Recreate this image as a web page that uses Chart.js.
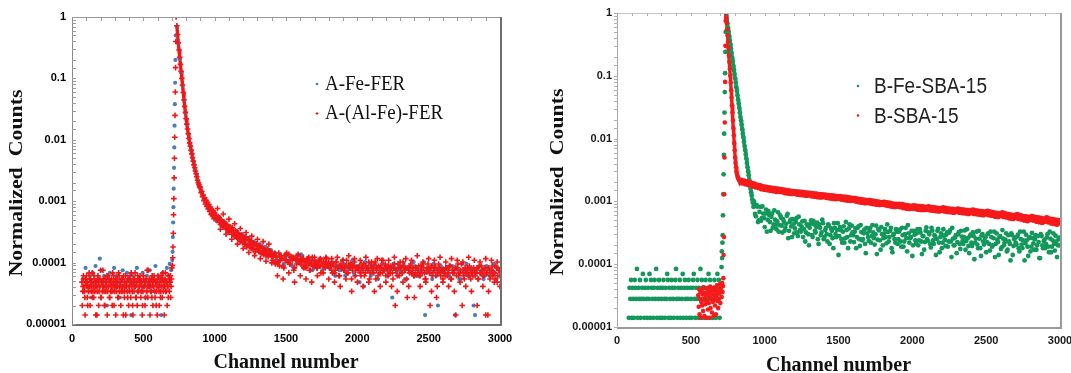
<!DOCTYPE html>
<html>
<head>
<meta charset="utf-8">
<script src="https://cdn.jsdelivr.net/npm/chart.js@4.4.1/dist/chart.umd.min.js"></script>
<style>
  html, body { margin: 0; padding: 0; background: #fff; }
  #wrap { position: relative; width: 1071px; height: 373px; overflow: hidden; }
  #leftBox { position: absolute; left: 0; top: 0; width: 530px; height: 373px; }
  #rightBox { position: absolute; left: 530px; top: 0; width: 541px; height: 373px; }
</style>
</head>
<body>
<div id="wrap">
  <div id="leftBox"><canvas id="left" width="530" height="373"></canvas></div>
  <div id="rightBox"><canvas id="right" width="541" height="373"></canvas></div>
</div>
<script>
// axis tick labels
var xTickLabels = ['0', '500', '1000', '1500', '2000', '2500', '3000'];
var yTickLabels = ['0.00001', '0.0001', '0.001', '0.01', '0.1', '1'];

// ---------- panel A ----------
// A-Fe-FER (blue)
// baseline, channels 75..695 every 10
var feFerBase = [5.4e-5,3.4e-5,8.2e-5,4.8e-5,4.1e-5,6.1e-5,2.7e-5,6.8e-5,4.8e-5,8.8e-5,4.1e-5,5.4e-5,1.16e-4,7.5e-5,4.8e-5,6.1e-5,4.1e-5,2e-5,5.4e-5,6.8e-5,
  4.8e-5,3.4e-5,8.2e-5,4.1e-5,6.1e-5,4.8e-5,2.7e-5,5.4e-5,7.5e-5,4.1e-5,4.8e-5,6.8e-5,3.4e-5,5.4e-5,1.4e-5,6.1e-5,4.8e-5,4.1e-5,8.2e-5,3.4e-5,
  5.4e-5,4.8e-5,6.8e-5,4.1e-5,2.7e-5,6.1e-5,4.8e-5,7.5e-5,4.1e-5,5.4e-5,3.4e-5,8.8e-5,4.8e-5,6.1e-5,4.1e-5,1.4e-5,6.8e-5,5.4e-5,4.8e-5,8.2e-5,
  6.1e-5,9.5e-5,7.5e-5];
// rising edge, channels 703..727 every 2
var feFerRise = [1.1e-4,1.5e-4,2.6e-4,4.5e-4,8e-4,1.6e-3,3.5e-3,7.5e-3,1.7e-2,3.8e-2,8.5e-2,0.2,0.5];
// decay, channels 735..995 every 10
var feFerDecay = [0.7,0.37,0.21,0.125,0.075,0.044,0.027,0.018,0.0125,0.0088,0.0067,0.0052,0.004,0.0031,0.0026,0.0021,0.00172,0.0015,0.00128,0.00108,
  0.00104,0.00088,0.00086,0.00073,0.00074,0.00062,0.00063];
// tail, channels 1005..2985 every 20
var feFerTail = [5.4e-4,5.1e-4,4.3e-4,4.6e-4,3.6e-4,3.9e-4,3.1e-4,2.6e-4,3.0e-4,2.3e-4,2.7e-4,2.0e-4,2.4e-4,1.75e-4,2.1e-4,1.6e-4,1.9e-4,1.45e-4,1.7e-4,1.35e-4,
  1.22e-4,1.43e-4,1.02e-4,1.16e-4,9.5e-5,1.29e-4,1.09e-4,8.8e-5,1.16e-4,1.02e-4,1.36e-4,8.2e-5,1.09e-4,9.5e-5,7.5e-5,1.02e-4,8.8e-5,1.16e-4,8.2e-5,9.5e-5,
  8.2e-5,1.02e-4,6.1e-5,8.8e-5,7.5e-5,9.5e-5,6.8e-5,8.2e-5,1.09e-4,6.1e-5,8.8e-5,7.5e-5,4.1e-5,8.2e-5,9.5e-5,6.8e-5,8.8e-5,5.4e-5,8.2e-5,7.5e-5,
  8.8e-5,6.8e-5,2.7e-5,8.2e-5,6.1e-5,7.5e-5,9.5e-5,5.4e-5,8.2e-5,6.8e-5,8.8e-5,6.1e-5,7.5e-5,1.02e-4,6.8e-5,8.2e-5,5.4e-5,7.5e-5,2e-5,8.8e-5,
  6.8e-5,8.2e-5,6.1e-5,8.8e-5,1.4e-5,7.5e-5,5.4e-5,6.8e-5,9.5e-5,6.1e-5,7.5e-5,1.4e-5,8.2e-5,6.8e-5,5.4e-5,8.8e-5,6.1e-5,7.5e-5,6.8e-5,8.2e-5];
// tail, channels 1015..2995 every 20
var feFerTail2 = [4.7e-4,5.5e-4,3.9e-4,4.3e-4,3.3e-4,3.7e-4,2.8e-4,3.3e-4,2.4e-4,2.9e-4,2.1e-4,2.5e-4,1.85e-4,2.2e-4,1.65e-4,2.0e-4,1.5e-4,1.8e-4,1.4e-4,1.6e-4,
  1.36e-4,1.09e-4,1.29e-4,8.8e-5,1.16e-4,1.02e-4,1.22e-4,8.2e-5,1.09e-4,9.5e-5,1.29e-4,8.8e-5,1.02e-4,1.16e-4,8.2e-5,9.5e-5,1.09e-4,7.5e-5,1.02e-4,8.8e-5,
  9.5e-5,6.8e-5,8.8e-5,7.5e-5,1.09e-4,6.1e-5,8.2e-5,9.5e-5,6.8e-5,8.8e-5,4.8e-5,8.2e-5,1.02e-4,7.5e-5,6.1e-5,8.8e-5,8.2e-5,6.8e-5,9.5e-5,7.5e-5,
  6.1e-5,8.2e-5,9.5e-5,6.8e-5,7.5e-5,8.8e-5,5.4e-5,8.2e-5,6.8e-5,1.02e-4,6.1e-5,7.5e-5,8.8e-5,1.4e-5,8.2e-5,6.8e-5,9.5e-5,6.1e-5,7.5e-5,8.2e-5,
  7.5e-5,6.1e-5,8.8e-5,6.8e-5,8.2e-5,5.4e-5,9.5e-5,7.5e-5,6.1e-5,8.2e-5,2e-5,6.8e-5,8.8e-5,7.5e-5,6.1e-5,8.2e-5,6.8e-5,9.5e-5,5.4e-5,7.5e-5];

// A-(Al-Fe)-FER (red)
// baseline, channels 70..700 every 5
var alFeBase = [4.8e-5,3.4e-5,6.1e-5,4.1e-5,2.7e-5,5.4e-5,4.1e-5,4.8e-5,2e-5,3.4e-5,6.8e-5,4.1e-5,5.4e-5,3.4e-5,4.8e-5,2.7e-5,4.1e-5,6.1e-5,3.4e-5,4.8e-5,
  4.1e-5,1.4e-5,5.4e-5,4.8e-5,3.4e-5,4.1e-5,7.5e-5,2.7e-5,4.8e-5,4.1e-5,5.4e-5,3.4e-5,2e-5,4.8e-5,4.1e-5,6.1e-5,3.4e-5,4.1e-5,5.4e-5,2.7e-5,
  4.8e-5,4.1e-5,3.4e-5,6.8e-5,4.8e-5,2e-5,4.1e-5,5.4e-5,3.4e-5,4.8e-5,4.1e-5,2.7e-5,6.1e-5,4.1e-5,4.8e-5,3.4e-5,5.4e-5,4.1e-5,1.4e-5,4.8e-5,
  3.4e-5,6.1e-5,4.1e-5,4.8e-5,2.7e-5,5.4e-5,4.1e-5,3.4e-5,4.8e-5,6.8e-5,4.1e-5,2e-5,4.8e-5,3.4e-5,5.4e-5,4.1e-5,2.7e-5,4.8e-5,6.1e-5,3.4e-5,
  4.1e-5,5.4e-5,4.8e-5,3.4e-5,4.1e-5,2e-5,6.1e-5,4.1e-5,4.8e-5,2.7e-5,5.4e-5,3.4e-5,4.1e-5,7.5e-5,4.8e-5,4.1e-5,3.4e-5,5.4e-5,2.7e-5,4.8e-5,
  4.1e-5,6.1e-5,3.4e-5,4.8e-5,2e-5,4.1e-5,5.4e-5,4.1e-5,3.4e-5,4.8e-5,2.7e-5,6.1e-5,4.1e-5,5.4e-5,3.4e-5,4.8e-5,4.1e-5,6.8e-5,3.4e-5,4.8e-5,
  4.1e-5,2.7e-5,5.4e-5,4.8e-5,6.1e-5,4.1e-5,8.2e-5];
// baseline, channels 72..697 every 5
var alFeBase2 = [2e-5,4.1e-5,5.4e-5,3.4e-5,1.4e-5,4.8e-5,6.1e-5,2.7e-5,4.1e-5,3.4e-5,5.4e-5,2e-5,4.8e-5,4.1e-5,6.8e-5,3.4e-5,2.7e-5,5.4e-5,4.1e-5,1.4e-5,
  4.8e-5,3.4e-5,6.1e-5,2e-5,4.1e-5,5.4e-5,2.7e-5,4.8e-5,3.4e-5,7.5e-5,4.1e-5,2e-5,5.4e-5,3.4e-5,4.8e-5,1.4e-5,6.1e-5,4.1e-5,2.7e-5,4.8e-5,
  3.4e-5,5.4e-5,2e-5,4.1e-5,6.1e-5,3.4e-5,4.8e-5,1.4e-5,4.1e-5,5.4e-5,2.7e-5,6.8e-5,3.4e-5,4.8e-5,2e-5,4.1e-5,5.4e-5,3.4e-5,6.1e-5,2.7e-5,
  4.1e-5,1.4e-5,4.8e-5,3.4e-5,5.4e-5,2e-5,4.1e-5,6.1e-5,2.7e-5,4.8e-5,3.4e-5,1.4e-5,5.4e-5,4.1e-5,6.8e-5,2.7e-5,4.8e-5,2e-5,3.4e-5,5.4e-5,
  4.1e-5,6.1e-5,2.7e-5,4.8e-5,1.4e-5,3.4e-5,5.4e-5,4.1e-5,2e-5,4.8e-5,3.4e-5,7.5e-5,2.7e-5,4.1e-5,5.4e-5,1.4e-5,4.8e-5,3.4e-5,6.1e-5,2e-5,
  4.1e-5,5.4e-5,2.7e-5,4.8e-5,3.4e-5,1.4e-5,6.1e-5,4.1e-5,2e-5,5.4e-5,3.4e-5,4.8e-5,2.7e-5,6.8e-5,4.1e-5,1.4e-5,5.4e-5,3.4e-5,4.8e-5,2e-5,
  4.1e-5,6.1e-5,3.4e-5,4.8e-5,2.7e-5,5.4e-5];
// rising edge, channels 704..730 every 2
var alFeRise = [9e-5,1.2e-4,1.8e-4,3e-4,6e-4,1.1e-3,2.4e-3,5e-3,1.1e-2,2.5e-2,6e-2,0.15,0.4,1];
// decay, channels 735..895 every 5
var alFeDecay = [0.72,0.52,0.38,0.29,0.22,0.17,0.13,0.1,0.078,0.059,0.045,0.035,0.028,0.022,0.018,0.015,0.0126,0.0105,0.0089,0.0079,
  0.0068,0.0059,0.0051,0.0045,0.0039,0.0035,0.0031,0.0028,0.0025,0.0022,0.002,0.00186,0.0017];
// knee, channels 900..1000 every 5
var alFeKnee = [0.00168,0.00138,0.00145,0.00118,0.00126,0.00102,0.00114,0.0009,0.00103,0.00082,0.00096,0.00075,0.00088,0.00068,0.0008,0.00061,0.00073,0.00058,0.00069,0.00052,0.00065];
// tail, channels 1010..3000 every 10
var alFeTail = [5.9e-4,4.9e-4,5.3e-4,4.2e-4,4.8e-4,3.9e-4,4.4e-4,3.5e-4,4.0e-4,3.3e-4,3.8e-4,2.9e-4,3.4e-4,2.7e-4,3.1e-4,2.5e-4,2.9e-4,2.2e-4,2.7e-4,2.4e-4,
  2.0e-4,2.6e-4,1.9e-4,2.3e-4,1.8e-4,2.2e-4,1.6e-4,2.0e-4,1.7e-4,1.9e-4,1.5e-4,1.85e-4,1.4e-4,1.7e-4,1.55e-4,1.3e-4,1.65e-4,1.35e-4,1.5e-4,1.25e-4,
  1.29e-4,1.02e-4,1.22e-4,9.5e-5,1.43e-4,1.09e-4,1.16e-4,8.8e-5,1.29e-4,1.09e-4,1.02e-4,1.36e-4,9.5e-5,1.16e-4,1.22e-4,8.2e-5,1.09e-4,1.29e-4,1.02e-4,1.16e-4,
  1.09e-4,8.8e-5,1.02e-4,8.2e-5,1.16e-4,9.5e-5,7.5e-5,1.02e-4,8.8e-5,1.22e-4,9.5e-5,8.2e-5,1.09e-4,8.8e-5,1.02e-4,6.8e-5,9.5e-5,1.16e-4,8.8e-5,1.02e-4,
  8.8e-5,7.5e-5,9.5e-5,6.8e-5,1.02e-4,8.2e-5,6.1e-5,8.8e-5,8.2e-5,1.09e-4,7.5e-5,8.8e-5,6.8e-5,9.5e-5,8.2e-5,5.4e-5,8.8e-5,1.02e-4,7.5e-5,8.2e-5,
  8.2e-5,6.8e-5,9.5e-5,7.5e-5,6.1e-5,8.8e-5,8.2e-5,1.02e-4,6.8e-5,8.2e-5,7.5e-5,9.5e-5,5.4e-5,8.2e-5,8.8e-5,6.8e-5,1.09e-4,7.5e-5,8.2e-5,6.1e-5,
  7.5e-5,8.8e-5,6.8e-5,8.2e-5,5.4e-5,9.5e-5,7.5e-5,6.1e-5,8.2e-5,8.8e-5,6.8e-5,1.02e-4,7.5e-5,8.2e-5,2.7e-5,7.5e-5,8.8e-5,6.8e-5,8.2e-5,6.1e-5,
  8.2e-5,6.8e-5,8.8e-5,6.1e-5,7.5e-5,9.5e-5,6.8e-5,5.4e-5,8.2e-5,7.5e-5,2e-5,8.8e-5,6.8e-5,8.2e-5,6.1e-5,7.5e-5,9.5e-5,6.8e-5,7.5e-5,5.4e-5,
  6.8e-5,8.2e-5,6.1e-5,7.5e-5,8.8e-5,5.4e-5,6.8e-5,7.5e-5,1.4e-5,8.2e-5,6.1e-5,6.8e-5,9.5e-5,7.5e-5,5.4e-5,6.8e-5,8.2e-5,6.1e-5,7.5e-5,6.8e-5,
  6.1e-5,7.5e-5,6.8e-5,8.2e-5,5.4e-5,6.8e-5,8.8e-5,6.1e-5,7.5e-5,1.4e-5,6.8e-5,8.2e-5,5.4e-5,7.5e-5,6.1e-5,6.8e-5,8.8e-5,4.8e-5,7.5e-5,6.1e-5];
// tail, channels 1015..2995 every 10
var alFeTail2 = [5.2e-4,5.6e-4,4.5e-4,5.0e-4,4.1e-4,4.6e-4,3.7e-4,4.2e-4,3.1e-4,3.6e-4,3.2e-4,3.7e-4,2.8e-4,3.3e-4,2.6e-4,3.0e-4,2.4e-4,2.8e-4,2.1e-4,2.5e-4,
  2.3e-4,1.8e-4,2.4e-4,2.0e-4,1.7e-4,2.1e-4,1.9e-4,1.5e-4,2.0e-4,1.6e-4,1.8e-4,1.45e-4,1.75e-4,1.35e-4,1.6e-4,1.5e-4,1.25e-4,1.55e-4,1.4e-4,
  1.09e-4,1.36e-4,9.5e-5,1.22e-4,1.02e-4,8.8e-5,1.29e-4,1.16e-4,8.2e-5,1.09e-4,1.43e-4,1.02e-4,9.5e-5,1.22e-4,1.09e-4,7.5e-5,1.16e-4,9.5e-5,1.36e-4,1.02e-4,
  9.5e-5,1.16e-4,8.2e-5,1.02e-4,8.8e-5,1.09e-4,7.5e-5,9.5e-5,1.22e-4,8.8e-5,1.02e-4,8.2e-5,9.5e-5,1.09e-4,6.8e-5,8.8e-5,1.02e-4,8.2e-5,1.16e-4,9.5e-5,
  8.2e-5,9.5e-5,6.8e-5,8.8e-5,7.5e-5,1.02e-4,8.2e-5,6.1e-5,9.5e-5,8.2e-5,7.5e-5,8.8e-5,1.09e-4,6.8e-5,8.2e-5,9.5e-5,7.5e-5,8.8e-5,6.1e-5,8.2e-5,
  7.5e-5,8.8e-5,6.1e-5,8.2e-5,9.5e-5,6.8e-5,8.2e-5,7.5e-5,5.4e-5,8.8e-5,8.2e-5,6.8e-5,1.02e-4,7.5e-5,6.1e-5,8.2e-5,8.8e-5,6.8e-5,7.5e-5,9.5e-5,
  8.2e-5,6.1e-5,7.5e-5,8.8e-5,6.8e-5,8.2e-5,2e-5,7.5e-5,9.5e-5,6.1e-5,8.2e-5,6.8e-5,8.8e-5,7.5e-5,5.4e-5,8.2e-5,6.8e-5,9.5e-5,7.5e-5,6.1e-5,
  6.8e-5,8.2e-5,7.5e-5,6.1e-5,8.8e-5,6.8e-5,8.2e-5,5.4e-5,7.5e-5,9.5e-5,6.8e-5,8.2e-5,6.1e-5,7.5e-5,8.8e-5,2.7e-5,6.8e-5,8.2e-5,6.1e-5,7.5e-5,
  7.5e-5,6.1e-5,8.2e-5,6.8e-5,8.8e-5,5.4e-5,7.5e-5,6.8e-5,8.2e-5,6.1e-5,9.5e-5,6.8e-5,7.5e-5,2e-5,6.1e-5,8.2e-5,6.8e-5,7.5e-5,8.8e-5,5.4e-5,
  6.8e-5,8.2e-5,6.1e-5,7.5e-5,5.4e-5,8.8e-5,6.8e-5,7.5e-5,6.1e-5,8.2e-5,6.8e-5,1.4e-5,7.5e-5,6.1e-5,8.8e-5,6.8e-5,5.4e-5,8.2e-5,6.1e-5,7.5e-5];
// tail edges (upper / lower spread), channels 1020..3000 every 20
var alFeTail3 = [7.6e-4,3.5e-4,6.2e-4,2.9e-4,5.1e-4,2.4e-4,4.3e-4,2.0e-4,3.6e-4,1.7e-4,3.1e-4,1.46e-4,2.7e-4,1.3e-4,2.4e-4,1.16e-4,2.2e-4,1.05e-4,2.0e-4,9.9e-5,
  1.43e-4,6.1e-5,1.29e-4,5.4e-5,1.36e-4,6.8e-5,1.22e-4,4.8e-5,1.29e-4,6.1e-5,1.16e-4,5.4e-5,1.22e-4,4.8e-5,1.09e-4,6.1e-5,1.16e-4,4.1e-5,1.22e-4,5.4e-5,
  1.16e-4,4.8e-5,1.22e-4,4.1e-5,1.09e-4,5.4e-5,1.29e-4,3.4e-5,1.16e-4,4.8e-5,1.09e-4,4.1e-5,1.22e-4,4.8e-5,1.02e-4,3.4e-5,1.16e-4,4.1e-5,1.09e-4,4.8e-5,
  1.09e-4,4.1e-5,1.22e-4,3.4e-5,1.02e-4,4.8e-5,1.16e-4,4.1e-5,1.09e-4,2.7e-5,1.29e-4,4.1e-5,1.02e-4,4.8e-5,1.16e-4,3.4e-5,1.09e-4,4.1e-5,1.22e-4,4.8e-5,
  1.02e-4,4.1e-5,1.16e-4,3.4e-5,1.09e-4,4.8e-5,1.02e-4,4.1e-5,1.22e-4,3.4e-5,1.09e-4,2e-5,1.02e-4,4.1e-5,1.16e-4,3.4e-5,1.09e-4,4.8e-5,1.02e-4,4.1e-5];

// ---------- panel B ----------
// B-Fe-SBA-15 (green)
// baseline, channels 80..700 every 5
var feSbaBase = [1.4e-5,4.2e-5,2.8e-5,5.6e-5,1.4e-5,4.2e-5,2.8e-5,1.4e-5,5.6e-5,4.2e-5,2.8e-5,8.4e-5,1.4e-5,4.2e-5,2.8e-5,5.6e-5,1.4e-5,2.8e-5,4.2e-5,7e-5,
  2.8e-5,1.4e-5,4.2e-5,5.6e-5,2.8e-5,1.4e-5,4.2e-5,2.8e-5,7e-5,1.4e-5,5.6e-5,4.2e-5,2.8e-5,1.4e-5,4.2e-5,5.6e-5,2.8e-5,8.4e-5,1.4e-5,4.2e-5,
  2.8e-5,5.6e-5,1.4e-5,4.2e-5,2.8e-5,1.4e-5,4.2e-5,5.6e-5,2.8e-5,1.4e-5,4.2e-5,2.8e-5,7e-5,5.6e-5,1.4e-5,4.2e-5,2.8e-5,1.4e-5,5.6e-5,4.2e-5,
  2.8e-5,1.4e-5,4.2e-5,5.6e-5,8.4e-5,2.8e-5,1.4e-5,4.2e-5,2.8e-5,5.6e-5,1.4e-5,4.2e-5,2.8e-5,7e-5,1.4e-5,4.2e-5,5.6e-5,2.8e-5,1.4e-5,4.2e-5,
  2.8e-5,5.6e-5,1.4e-5,4.2e-5,2.8e-5,1.4e-5,4.2e-5,5.6e-5,7e-5,2.8e-5,1.4e-5,4.2e-5,2.8e-5,5.6e-5,1.4e-5,4.2e-5,2.8e-5,8.4e-5,1.4e-5,5.6e-5,
  4.2e-5,2.8e-5,1.4e-5,4.2e-5,5.6e-5,2.8e-5,1.4e-5,4.2e-5,7e-5,2.8e-5,5.6e-5,1.4e-5,4.2e-5,2.8e-5,1.4e-5,4.2e-5,5.6e-5,2.8e-5,1.4e-5,4.2e-5,
  7e-5,2.8e-5,5.6e-5,1.4e-5,4.2e-5];
// rising edge, channels 708..738 every 2
var feSbaRise = [9e-5,1.6e-4,1.25e-4,2.2e-4,2.9e-4,6e-4,1.3e-3,2.7e-3,5.5e-3,1.2e-2,2.6e-2,5.5e-2,0.11,0.24,0.5,1];
// decay, channels 740..912 every 4
var feSbaDecay = [0.93,0.79,0.68,0.58,0.5,0.43,0.36,0.32,0.27,0.23,0.195,0.17,0.145,0.123,0.107,0.091,0.078,0.066,0.058,0.049,
  0.042,0.036,0.031,0.026,0.022,0.0195,0.0166,0.0141,0.012,0.0105,0.0089,0.0076,0.0066,0.0056,0.0048,0.0041,0.0035,0.003,0.0026,0.0022,
  0.0019,0.0016,0.0014,0.00123];
// knee, channels 916..928 every 4
var feSbaKnee = [0.00107,0.00095,0.00082,0.001];
// tail, channels 930..3000 every 10
var feSbaTail = [8.4e-4,5.8e-4,8.3e-4,5.0e-4,8.2e-4,5.4e-4,6.4e-4,3.9e-4,7.4e-4,5.1e-4,6.1e-4,3.4e-4,6.4e-4,4.3e-4,5.1e-4,3.6e-4,6.7e-4,4.2e-4,
  5.5e-4,3.2e-4,4.7e-4,3.8e-4,5.9e-4,2.6e-4,4.7e-4,4.0e-4,5.2e-4,3.1e-4,4.7e-4,3.2e-4,5.7e-4,3.5e-4,4.0e-4,2.7e-4,4.9e-4,3.2e-4,4.1e-4,2.0e-4,
  4.4e-4,2.9e-4,4.9e-4,3.4e-4,3.9e-4,2.5e-4,4.3e-4,2.9e-4,5.1e-4,2.5e-4,3.5e-4,3.0e-4,4.3e-4,2.1e-4,3.7e-4,2.6e-4,4.5e-4,3.0e-4,3.5e-4,1.4e-4,
  3.9e-4,2.5e-4,3.3e-4,2.2e-4,4.7e-4,2.7e-4,3.7e-4,2.3e-4,4.1e-4,2.9e-4,3.3e-4,1.8e-4,3.8e-4,2.5e-4,4.2e-4,2.4e-4,3.1e-4,2.1e-4,3.8e-4,2.7e-4,
  3.4e-4,2.2e-4,4.2e-4,2.6e-4,3.0e-4,1.45e-4,3.6e-4,2.4e-4,3.9e-4,2.0e-4,3.1e-4,2.7e-4,4.3e-4,2.3e-4,3.4e-4,1.8e-4,2.9e-4,2.5e-4,3.6e-4,2.1e-4,
  3.3e-4,2.3e-4,3.8e-4,1.9e-4,3.0e-4,2.6e-4,4.2e-4,2.2e-4,2.7e-4,1.35e-4,3.4e-4,2.4e-4,3.1e-4,2.0e-4,3.6e-4,2.3e-4,2.8e-4,1.7e-4,3.4e-4,2.5e-4,
  3.2e-4,2.1e-4,3.8e-4,2.4e-4,2.9e-4,1.4e-4,3.4e-4,2.2e-4,2.7e-4,1.8e-4,3.6e-4,2.45e-4,2.95e-4,1.9e-4,3.2e-4,2.3e-4,3.8e-4,2.0e-4,2.65e-4,1.5e-4,
  3.0e-4,2.1e-4,3.4e-4,2.35e-4,2.7e-4,1.7e-4,3.6e-4,1.95e-4,2.8e-4,2.2e-4,3.2e-4,1.2e-4,2.55e-4,2.05e-4,3.4e-4,1.8e-4,2.9e-4,2.3e-4,2.65e-4,1.55e-4,
  3.0e-4,2.1e-4,3.3e-4,1.9e-4,2.6e-4,1.3e-4,3.1e-4,2.25e-4,2.7e-4,1.75e-4,3.5e-4,2.0e-4,2.45e-4,1.6e-4,2.9e-4,2.1e-4,3.1e-4,1.4e-4,2.5e-4,2.2e-4,
  2.75e-4,1.8e-4,3.3e-4,2.05e-4,2.4e-4,1.15e-4,2.95e-4,1.9e-4,2.6e-4,1.6e-4,3.15e-4,2.15e-4,2.5e-4,1.7e-4,2.8e-4,1.25e-4,3.0e-4,2.0e-4,2.35e-4,1.8e-4,
  2.65e-4,1.9e-4,3.3e-4,1.55e-4,2.4e-4,2.1e-4,2.85e-4,1.3e-4,2.5e-4,2.0e-4];
// tail, channels 935..2995 every 10
var feSbaTail2 = [6.3e-4,8.8e-4,4.7e-4,6.8e-4,4.9e-4,8.3e-4,5.4e-4,6.4e-4,3.3e-4,7.0e-4,4.7e-4,5.7e-4,3.8e-4,7.2e-4,4.2e-4,4.8e-4,3.3e-4,
  6.0e-4,4.1e-4,5.2e-4,3.4e-4,4.4e-4,6.3e-4,3.4e-4,5.1e-4,2.7e-4,4.3e-4,3.7e-4,5.4e-4,2.8e-4,4.3e-4,3.3e-4,4.8e-4,3.6e-4,2.3e-4,4.3e-4,3.0e-4,
  3.8e-4,5.0e-4,2.7e-4,4.3e-4,3.2e-4,4.6e-4,2.1e-4,3.8e-4,3.2e-4,4.5e-4,2.7e-4,3.8e-4,2.3e-4,4.1e-4,2.9e-4,3.4e-4,1.8e-4,3.8e-4,2.7e-4,4.5e-4,
  2.8e-4,3.5e-4,2.2e-4,4.0e-4,2.6e-4,3.5e-4,1.8e-4,4.3e-4,2.9e-4,3.2e-4,2.25e-4,3.75e-4,2.7e-4,4.0e-4,1.95e-4,3.25e-4,2.5e-4,3.55e-4,1.5e-4,3.1e-4,
  2.35e-4,3.8e-4,2.8e-4,3.2e-4,2.05e-4,4.1e-4,2.45e-4,3.45e-4,1.7e-4,3.0e-4,2.6e-4,3.6e-4,2.15e-4,3.25e-4,2.7e-4,3.8e-4,1.55e-4,3.05e-4,2.2e-4,3.3e-4,
  2.5e-4,3.55e-4,1.9e-4,2.9e-4,2.3e-4,3.8e-4,1.6e-4,3.1e-4,2.6e-4,3.4e-4,2.0e-4,2.95e-4,2.15e-4,3.6e-4,2.4e-4,3.2e-4,1.45e-4,2.8e-4,2.25e-4,3.85e-4,
  2.35e-4,3.0e-4,1.85e-4,3.4e-4,2.1e-4,2.75e-4,2.5e-4,3.65e-4,1.55e-4,3.1e-4,2.2e-4,2.85e-4,1.95e-4,3.2e-4,2.3e-4,3.45e-4,1.3e-4,2.55e-4,2.0e-4,2.9e-4,
  2.25e-4,3.25e-4,1.75e-4,2.75e-4,2.1e-4,3.45e-4,2.35e-4,2.6e-4,1.5e-4,2.95e-4,1.95e-4,2.8e-4,2.2e-4,3.3e-4,1.8e-4,2.55e-4,1.35e-4,3.0e-4,2.05e-4,2.65e-4,
  2.25e-4,3.1e-4,1.65e-4,2.7e-4,2.0e-4,3.3e-4,2.1e-4,2.45e-4,1.4e-4,2.8e-4,1.85e-4,2.55e-4,2.2e-4,3.1e-4,1.7e-4,2.3e-4,1.15e-4,2.9e-4,1.95e-4,2.65e-4,
  2.05e-4,2.95e-4,1.6e-4,2.5e-4,1.8e-4,3.3e-4,2.15e-4,2.4e-4,1.35e-4,2.7e-4,1.9e-4,2.6e-4,1.7e-4,2.9e-4,2.0e-4,2.25e-4,1.25e-4,2.8e-4,1.8e-4,2.45e-4,
  2.1e-4,3.0e-4,1.55e-4,2.55e-4,1.9e-4,3.1e-4,1.65e-4,2.3e-4,2.0e-4,2.65e-4];

// B-SBA-15 (red)
// baseline, channels 550..718 every 3
var sbaBase = [3.2e-5,2.1e-5,4.0e-5,1.6e-5,2.8e-5,3.6e-5,1.4e-5,2.5e-5,3.9e-5,2.2e-5,
  3.3e-5,1.8e-5,4.3e-5,2.7e-5,1.5e-5,3.5e-5,2.3e-5,3.0e-5,1.4e-5,4.1e-5,
  2.6e-5,3.4e-5,1.9e-5,3.8e-5,2.4e-5,1.4e-5,3.1e-5,4.4e-5,2.0e-5,3.6e-5,
  2.8e-5,1.7e-5,3.9e-5,2.5e-5,3.3e-5,1.5e-5,4.2e-5,2.9e-5,2.2e-5,3.7e-5,
  1.6e-5,3.2e-5,4.6e-5,2.6e-5,3.5e-5,2.0e-5,4.0e-5,2.8e-5,3.4e-5,4.8e-5,
  2.4e-5,3.8e-5,4.3e-5,3.0e-5,5.0e-5,3.6e-5,4.5e-5];
// rising edge, channels 720..738 every 2
var sbaRise = [6e-5,1.4e-4,2.7e-4,1.3e-3,5e-3,1.8e-2,8e-2,0.3,0.75,1];
// decay, channels 740..830 every 3
var sbaDecay = [0.85,0.69,0.55,0.44,0.35,0.28,0.21,0.166,0.129,0.1,0.078,0.059,0.045,0.034,0.026,0.0195,0.0148,0.0112,0.0085,0.0065,
  0.005,0.0041,0.0035,0.003,0.00275,0.00257,0.00245,0.00234,0.00226,0.00219,0.00214];
// tail, channels 840..3000 every 10
var sbaTail = [2.15e-3,2.0e-3,2.08e-3,1.93e-3,2.02e-3,1.88e-3,1.96e-3,
  1.92e-3,1.78e-3,1.86e-3,1.72e-3,1.79e-3,1.68e-3,1.75e-3,1.61e-3,1.69e-3,1.58e-3,
  1.66e-3,1.55e-3,1.63e-3,1.52e-3,1.6e-3,1.49e-3,1.57e-3,1.46e-3,1.55e-3,1.47e-3,
  1.53e-3,1.44e-3,1.5e-3,1.39e-3,1.47e-3,1.37e-3,1.45e-3,1.35e-3,1.42e-3,1.36e-3,
  1.41e-3,1.32e-3,1.39e-3,1.3e-3,1.38e-3,1.29e-3,1.36e-3,1.27e-3,1.34e-3,1.28e-3,
  1.33e-3,1.24e-3,1.31e-3,1.22e-3,1.3e-3,1.2e-3,1.27e-3,1.19e-3,1.26e-3,1.2e-3,
  1.25e-3,1.17e-3,1.23e-3,1.15e-3,1.22e-3,1.13e-3,1.2e-3,1.12e-3,1.18e-3,1.13e-3,
  1.18e-3,1.1e-3,1.16e-3,1.08e-3,1.15e-3,1.06e-3,1.13e-3,1.05e-3,1.11e-3,1.06e-3,
  1.1e-3,1.02e-3,1.08e-3,1.0e-3,1.06e-3,9.8e-4,1.04e-3,9.6e-4,1.02e-3,9.7e-4,
  1.02e-3,9.5e-4,1.0e-3,9.3e-4,9.8e-4,9.1e-4,9.7e-4,9.0e-4,9.5e-4,9.1e-4,
  9.6e-4,8.9e-4,9.4e-4,8.7e-4,9.2e-4,8.5e-4,9.0e-4,8.4e-4,8.9e-4,8.5e-4,
  8.9e-4,8.3e-4,8.8e-4,8.1e-4,8.6e-4,7.9e-4,8.4e-4,7.8e-4,8.3e-4,7.9e-4,
  8.4e-4,7.8e-4,8.3e-4,7.6e-4,8.2e-4,7.5e-4,8.1e-4,7.5e-4,8.0e-4,7.6e-4,
  8.1e-4,7.4e-4,7.9e-4,7.3e-4,7.8e-4,7.2e-4,7.7e-4,7.1e-4,7.6e-4,7.3e-4,
  7.8e-4,7.1e-4,7.6e-4,7.0e-4,7.5e-4,6.9e-4,7.4e-4,6.8e-4,7.3e-4,7.0e-4,
  7.5e-4,6.8e-4,7.3e-4,6.7e-4,7.2e-4,6.6e-4,7.1e-4,6.5e-4,7.0e-4,6.7e-4,
  7.2e-4,6.5e-4,7.0e-4,6.4e-4,6.9e-4,6.3e-4,6.8e-4,6.2e-4,6.7e-4,6.4e-4,
  6.9e-4,6.2e-4,6.7e-4,6.1e-4,6.5e-4,5.9e-4,6.4e-4,5.8e-4,6.3e-4,6.0e-4,
  6.5e-4,5.8e-4,6.3e-4,5.7e-4,6.1e-4,5.5e-4,6.0e-4,5.4e-4,5.9e-4,5.6e-4,
  6.1e-4,5.4e-4,5.9e-4,5.3e-4,5.7e-4,5.1e-4,5.6e-4,5.0e-4,5.5e-4,5.2e-4,
  5.7e-4,5.1e-4,5.5e-4,4.9e-4,5.4e-4,4.8e-4,5.3e-4,4.7e-4,5.2e-4,4.9e-4,
  5.4e-4,4.8e-4,5.2e-4,4.6e-4,5.1e-4,4.5e-4,5.0e-4,4.4e-4,4.9e-4,4.7e-4];

// values on a regular channel grid -> {x, y}
function seg(start, step, vals) {
    return vals.map(function (v, i) { return { x: start + i * step, y: v }; });
}

var decor = {
    id: 'decor',
    afterDraw: function (chart, args, o) {
        var ctx = chart.ctx, a = chart.chartArea;
        var xs = chart.scales.x, ys = chart.scales.y;
        ctx.save();

        // frame + shadow
        ctx.lineWidth = 1;
        ctx.strokeStyle = o.topColor;
        ctx.beginPath(); ctx.moveTo(a.left, a.top + 0.5); ctx.lineTo(a.right, a.top + 0.5); ctx.stroke();
        ctx.strokeStyle = o.axisColor;
        ctx.beginPath(); ctx.moveTo(a.left + 0.5, a.top); ctx.lineTo(a.left + 0.5, a.bottom); ctx.stroke();
        ctx.strokeStyle = o.shadowColor;
        ctx.lineWidth = 2;
        ctx.beginPath(); ctx.moveTo(a.left, a.bottom + 1); ctx.lineTo(a.right + 1, a.bottom + 1); ctx.lineTo(a.right + 1, a.top); ctx.stroke();

        // tick marks
        ctx.lineWidth = 1;
        ctx.strokeStyle = o.tickColor;
        ctx.beginPath();
        ys.ticks.forEach(function (t) {
            var py = Math.round(ys.getPixelForValue(t.value)) + 0.5;
            ctx.moveTo(a.left + o.yTick[0], py); ctx.lineTo(a.left + o.yTick[1], py);
        });
        for (var c = 100; c < 3000; c += 100) {
            var px = Math.round(xs.getPixelForValue(c)) + 0.5;
            ctx.moveTo(px, a.top); ctx.lineTo(px, a.top + o.xTick);
        }
        ctx.stroke();

        // y title
        ctx.save();
        ctx.translate(o.yTitle.x, o.yTitle.y);
        ctx.rotate(-Math.PI / 2);
        ctx.scale(1.15, 1);
        ctx.font = 'bold 19px "Liberation Serif", "Times New Roman", serif';
        ctx.fillStyle = '#111';
        ctx.textAlign = 'center';
        ctx.textBaseline = 'middle';
        ctx.fillText(o.yTitle.text, 0, 0);
        ctx.restore();

        // legend (point datasets only)
        var lg = o.legend;
        chart.data.datasets.filter(function (ds) { return !ds.showLine; }).forEach(function (ds, i) {
            var ly = lg.y + i * lg.gap;
            ctx.fillStyle = ds.pointBackgroundColor;
            ctx.strokeStyle = ds.pointBorderColor;
            if (ds.pointStyle === 'cross') {
                ctx.lineWidth = 1;
                ctx.beginPath();
                ctx.moveTo(lg.x - 1.5, ly); ctx.lineTo(lg.x + 1.5, ly);
                ctx.moveTo(lg.x, ly - 1.5); ctx.lineTo(lg.x, ly + 1.5);
                ctx.stroke();
            } else {
                ctx.beginPath(); ctx.arc(lg.x, ly, 1.3, 0, Math.PI * 2); ctx.fill();
            }
            ctx.save();
            ctx.translate(lg.x + lg.textOff, ly + lg.textDy);
            ctx.scale(1, 1.15);
            ctx.font = lg.font;
            ctx.fillStyle = lg.color;
            ctx.textAlign = 'left';
            ctx.textBaseline = 'middle';
            ctx.fillText(ds.label, 0, 0);
            ctx.restore();
        });
        ctx.restore();
    }
};

function makeChart(id, datasets, p) {
    return new Chart(document.getElementById(id), {
        type: 'scatter',
        data: { datasets: datasets },
        options: {
            responsive: false,
            animation: false,
            events: [],
            layout: { padding: { top: p.top, right: p.right, left: 0, bottom: 0 } },
            plugins: {
                legend: { display: false },
                tooltip: { enabled: false },
                decor: p.decor
            },
            scales: {
                x: {
                    type: 'linear',
                    min: 0,
                    max: 3000,
                    grid: { display: false, drawTicks: false },
                    border: { display: false },
                    ticks: {
                        stepSize: 500,
                        autoSkip: false,
                        maxRotation: 0,
                        padding: p.xPad,
                        color: p.tickColor,
                        font: { family: '"Liberation Sans", Arial, sans-serif', size: 11, weight: 'bold' },
                        callback: function (v) { return xTickLabels[Math.round(v / 500)]; }
                    },
                    title: {
                        display: true,
                        text: 'Channel number',
                        color: '#111',
                        font: { family: '"Liberation Serif", "Times New Roman", serif', size: 20, weight: 'bold', lineHeight: 1 },
                        padding: { top: 0, bottom: p.titleBottom }
                    },
                    afterFit: function (s) { s.height = p.xHeight; s.paddingLeft = 0; s.paddingRight = 0; }
                },
                y: {
                    type: 'logarithmic',
                    min: 0.00001,
                    max: 1,
                    grid: { display: false, drawTicks: false },
                    border: { display: false },
                    ticks: {
                        autoSkip: false,
                        padding: p.yPad,
                        color: p.tickColor,
                        font: { family: '"Liberation Sans", Arial, sans-serif', size: 11, weight: 'bold' },
                        callback: function (v) {
                            var e = Math.log10(v);
                            if (Math.abs(e - Math.round(e)) > 1e-6) return '';
                            return yTickLabels[Math.round(e) + 5];
                        }
                    },
                    afterFit: function (s) { s.width = p.yWidth; s.paddingTop = 0; s.paddingBottom = 0; }
                }
            }
        },
        plugins: [decor]
    });
}

// continuous trace under the dense decay points
function trace(color, pts) {
    return {
        label: '', data: pts, showLine: true, borderColor: color, borderWidth: 3.4,
        pointRadius: 0, tension: 0, order: 5
    };
}

var blueA = '#4a7ebb';
var redA = 'rgb(242,22,22)';
var greenB = 'rgb(18,152,90)';
var redB = 'rgb(246,26,26)';

makeChart('left', [
    {
        label: 'A-Fe-FER',
        data: [].concat(seg(75, 10, feFerBase), seg(703, 2, feFerRise), seg(735, 10, feFerDecay), seg(1005, 20, feFerTail), seg(1015, 20, feFerTail2)),
        pointStyle: 'circle', pointRadius: 2.1, pointBorderWidth: 0,
        pointBackgroundColor: blueA, pointBorderColor: blueA, order: 2
    },
    {
        label: 'A-(Al-Fe)-FER',
        data: [].concat(seg(70, 5, alFeBase), seg(72, 5, alFeBase2), seg(704, 2, alFeRise), seg(735, 5, alFeDecay),
            seg(900, 5, alFeKnee), seg(1010, 10, alFeTail), seg(1015, 10, alFeTail2), seg(1020, 20, alFeTail3)),
        pointStyle: 'cross', pointRadius: 2.8, pointBorderWidth: 1.6,
        pointBackgroundColor: redA, pointBorderColor: redA, order: 1
    },
    trace(redA, seg(735, 5, alFeDecay))
], {
    top: 17, right: 30, yWidth: 72, xHeight: 49, xPad: 8, yPad: 6, titleBottom: 0.5, tickColor: '#000',
    decor: {
        topColor: '#9a9a9a', axisColor: '#8a8a8a', shadowColor: '#707070', tickColor: '#9a9a9a',
        yTick: [0, 4], xTick: 4,
        yTitle: { text: 'Normalized  Counts', x: 17, y: 183 },
        legend: { x: 317, y: 84, gap: 29.5, textOff: 8, textDy: 0, color: '#111', font: '19px "Liberation Serif", "Times New Roman", serif' }
    }
});

makeChart('right', [
    {
        label: 'B-Fe-SBA-15',
        data: [].concat(seg(80, 5, feSbaBase), seg(708, 2, feSbaRise), seg(740, 4, feSbaDecay), seg(916, 4, feSbaKnee),
            seg(930, 10, feSbaTail), seg(935, 10, feSbaTail2)),
        pointStyle: 'circle', pointRadius: 2.4, pointBorderWidth: 0,
        pointBackgroundColor: greenB, pointBorderColor: greenB, order: 2
    },
    {
        label: 'B-SBA-15',
        data: [].concat(seg(550, 3, sbaBase), seg(720, 2, sbaRise), seg(740, 3, sbaDecay), seg(840, 10, sbaTail)),
        pointStyle: 'circle', pointBorderWidth: 0,
        pointRadius: function (c) { return c.raw && c.raw.x >= 840 ? 3.1 : 2.3; },
        pointBackgroundColor: redB, pointBorderColor: redB, order: 1
    },
    trace(greenB, seg(740, 4, feSbaDecay)),
    trace(redB, seg(740, 3, sbaDecay))
], {
    top: 13, right: 11, yWidth: 87, xHeight: 46, xPad: 7, yPad: 5, titleBottom: -2.5, tickColor: '#1a1a1a',
    decor: {
        topColor: '#c4c4c4', axisColor: '#a8a8a8', shadowColor: '#9a9a9a', tickColor: '#b0b0b0',
        yTick: [-3, 1], xTick: 3,
        yTitle: { text: 'Normalized  Counts', x: 28, y: 182 },
        legend: { x: 328, y: 86, gap: 29.5, textOff: 16, textDy: 1, color: '#222', font: '19px "Liberation Sans", Arial, sans-serif' }
    }
});
</script>
</body>
</html>
